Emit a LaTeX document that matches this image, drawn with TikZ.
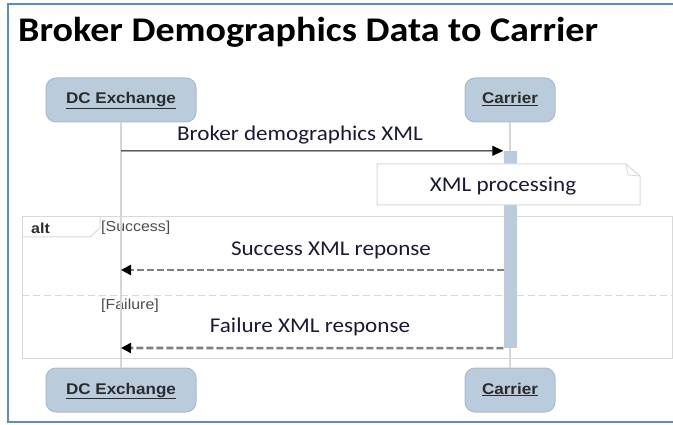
\documentclass[tikz,border=0pt]{standalone}
\usepackage{fontspec}
\setmainfont{Carlito}[FakeStretch=1.1]
\newfontfamily\arialf{Liberation Sans}[FakeStretch=1.1]
\usetikzlibrary{arrows.meta}

\definecolor{boxfill}{HTML}{BACCDC}
\definecolor{boxedge}{HTML}{A8BCCF}
\definecolor{lifegray}{HTML}{D6D6D6}
\definecolor{framegray}{HTML}{D9D9D9}
\definecolor{bordblue}{HTML}{5B8CC8}
\definecolor{msgtext}{HTML}{1A1A33}
\definecolor{dashgray}{HTML}{808080}
\definecolor{actortext}{HTML}{2B2B2B}
\definecolor{guardtext}{HTML}{4D4D4D}

\begin{document}
\begin{tikzpicture}[x=1pt,y=-1pt,
  actor/.style={draw=boxedge, fill=boxfill, rounded corners=10pt, line width=1pt,
    minimum height=44pt, inner sep=0pt, text=actortext,
    text height=11pt, text depth=3pt,
    font=\arialf\bfseries\fontsize{15.5}{18}\selectfont},
  lifeline/.style={draw=lifegray, line width=1.2pt},
  msglabel/.style={inner sep=0pt, text=msgtext, font=\fontsize{21}{24}\selectfont},
  guard/.style={inner sep=0pt, anchor=west, text=guardtext,
    font=\arialf\fontsize{14.5}{16}\selectfont},
  msg/.style={draw=black, line width=1pt, -{Triangle[length=11pt,width=10pt]}},
  reply/.style={draw=dashgray, line width=2.6pt, dash pattern=on 7pt off 3pt,
    -{Triangle[length=10pt,width=10pt,color=black]}},
  framebox/.style={draw=framegray, line width=1pt}
]
\useasboundingbox (0,0) rectangle (673,425);
\fill[white] (0,0) rectangle (673,425);

% outer frame of the slide
\draw[bordblue, line width=1.5pt] (673,4) -- (8,4) -- (8,422) -- (673,422);

% heading
\node[anchor=base west, inner sep=0pt, font=\bfseries\fontsize{34.6}{40}\selectfont]
  (title) at (18,42) {Broker Demographics Data to Carrier};

% alt combined fragment
\draw[framebox] (22,217) rectangle (672,358);
\draw[framebox] (22,237) -- (90,237) -- (100,228) -- (100,217);
\draw[framegray, line width=1pt, dash pattern=on 7pt off 4pt] (22,296) -- (672,296);
\node[inner sep=0pt, anchor=west, text=actortext,
  font=\arialf\bfseries\fontsize{14.5}{16}\selectfont] (altlbl) at (31,228) {alt};
\node[guard] (g1) at (101,228) {[Success]};
\node[guard] (g2) at (101,306) {[Failure]};

% participants
\node[actor, minimum width=150pt] (dcTop) at (121,100) {\underline{DC Exchange}};
\node[actor, minimum width=90pt] (carTop) at (510,100) {\underline{Carrier}};
\node[actor, minimum width=150pt] (dcBot) at (121,390) {\underline{DC Exchange}};
\node[actor, minimum width=90pt] (carBot) at (510,390) {\underline{Carrier}};

% lifelines
\draw[lifeline] (dcTop) -- (dcBot);
\draw[lifeline] (carTop) -- (carBot);

% activation of the carrier
\node[fill=boxfill, draw=none, inner sep=0pt, minimum width=13pt, minimum height=197pt]
  (act) at (510,249.5) {};

% note
\draw[fill=white, draw=framegray, line width=1pt]
  (377,164) -- (626,164) -- (640,176) -- (640,205) -- (377,205) -- cycle;
\draw[framegray, line width=0.8pt] (626,164) -- (628,175) -- (640,176);
\node[msglabel] (note) at (503,186) {XML processing};

% messages
\coordinate (m1s) at (121,151);
\draw[msg] (m1s) -- (act.north west);
\node[msglabel] (m1) at (300,135) {Broker demographics XML};

\coordinate (r1s) at (503.5,270);
\coordinate (r1e) at (121,270);
\draw[reply] (r1s) -- (r1e);
\node[msglabel] (r1) at (331,250) {Success XML reponse};

\coordinate (r2e) at (121,348);
\draw[reply] (act.south west) -- (r2e);
\node[msglabel] (r2) at (310,327) {Failure XML response};
\end{tikzpicture}
\end{document}
